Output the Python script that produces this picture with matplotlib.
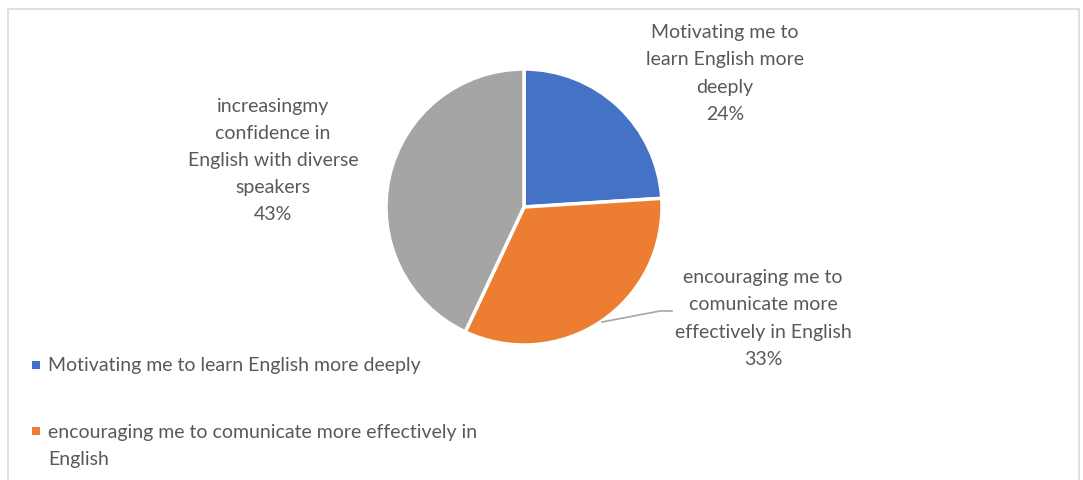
import matplotlib
matplotlib.use("Agg")
import matplotlib.pyplot as plt
from matplotlib.patches import Rectangle

categories = [
    "Motivating me to learn English more deeply",
    "encouraging me to comunicate more effectively in\nEnglish",
]
values = [24, 33, 43]
label_texts = [
    "Motivating me to\nlearn English more\ndeeply\n24%",
    "encouraging me to\ncomunicate more\neffectively in English\n33%",
    "increasingmy\nconfidence in\nEnglish with diverse\nspeakers\n43%",
]
colors = ["#4472C4", "#ED7D31", "#A5A5A5"]
text_color = "#595959"

plt.rcParams["font.family"] = ["Lato", "DejaVu Sans"]

W, H = 1083, 481
fig = plt.figure(figsize=(W / 100, H / 100), dpi=100)
ax = fig.add_axes([0, 0, 1, 1])

cx, cy, r = 524, H - 208, 138
wedges, _ = ax.pie(values, colors=colors, startangle=90, counterclock=False,
                   center=(cx, cy), radius=r,
                   wedgeprops=dict(edgecolor="white", linewidth=2.5))
ax.set_xlim(0, W)
ax.set_ylim(0, H)
ax.set_aspect("equal")
ax.axis("off")

fs = 14
label_pos = [(725, H - 73.5), (763, H - 318.5), (273, H - 160.5)]
for (x, y), t in zip(label_pos, label_texts):
    ax.text(x, y, t, ha="center", va="center", fontsize=fs, color=text_color,
            linespacing=1.72)

# leader line for the orange slice
ax.plot([602, 660, 672], [H - 323, H - 312, H - 312], color="#A6A6A6", lw=1.2)

# chart frame
frame = Rectangle((8, -20), 1071, H - 10 + 20, fill=False, edgecolor="#D9D9D9",
                  lw=1.2, transform=ax.transData, clip_on=False)
ax.add_patch(frame)

# legend entries (square marker + label)
legend_rows = [366, 432]
legend_centers = [366, 446]
for i, name in enumerate(categories):
    ax.add_patch(Rectangle((32, H - legend_rows[i] - 4), 8, 8,
                           facecolor=colors[i], edgecolor="none"))
    ax.text(48, H - legend_centers[i], name, ha="left", va="center",
            fontsize=fs, color=text_color, linespacing=1.66)

fig.savefig("out.png", dpi=100)
